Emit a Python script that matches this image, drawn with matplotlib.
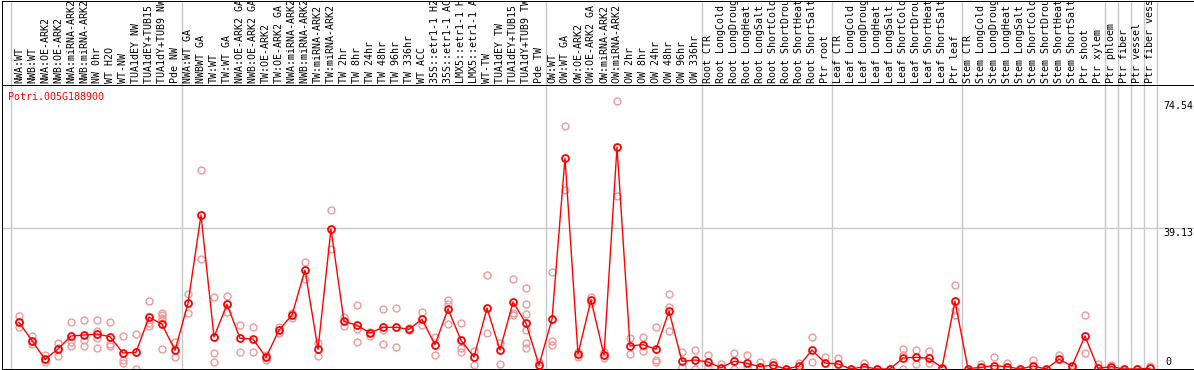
import numpy as np
import matplotlib.pyplot as plt

gene = "Potri.005G188900"

samples = [
    "NWA:WT", "NWB:WT", "NWA:OE-ARK2", "NWB:OE-ARK2", "NWA:miRNA-ARK2", "NWB:miRNA-ARK2",
    "NW 0hr", "WT H2O", "WT-NW", "TUA1dEY NW", "TUA1dEY+TUB15 NW", "TUA1dY+TUB9 NW", "Pde NW",
    "NWA:WT GA", "NWBWT GA", "TW:WT", "TW:WT GA", "NWA:OE-ARK2 GA", "NWB:OE-ARK2 GA",
    "TW:OE-ARK2", "TW:OE-ARK2 GA", "NWA:miRNA-ARK2 GA", "NWB:miRNA-ARK2 GA", "TW:miRNA-ARK2",
    "TW:miRNA-ARK2 GA", "TW 2hr", "TW 8hr", "TW 24hr", "TW 48hr", "TW 96hr", "TW 336hr",
    "WT ACC", "35S::etr1-1 H2O", "35S::etr1-1 ACC", "LMX5::etr1-1 H2O", "LMX5::etr1-1 ACC",
    "WT-TW", "TUA1dEY TW", "TUA1dEY+TUB15 TW", "TUA1dY+TUB9 TW", "Pde TW",
    "OW:WT", "OW:WT GA", "OW:OE-ARK2", "OW:OE-ARK2 GA", "OW:miRNA-ARK2", "OW:miRNA-ARK2 GA",
    "OW 2hr", "OW 8hr", "OW 24hr", "OW 48hr", "OW 96hr", "OW 336hr",
    "Root CTR", "Root LongCold", "Root LongDrought", "Root LongHeat", "Root LongSalt",
    "Root ShortCold", "Root ShortDrought", "Root ShortHeat", "Root ShortSalt", "Ptr root",
    "Leaf CTR", "Leaf LongCold", "Leaf LongDrought", "Leaf LongHeat", "Leaf LongSalt",
    "Leaf ShortCold", "Leaf ShortDrought", "Leaf ShortHeat", "Leaf ShortSalt", "Ptr leaf",
    "Stem CTR", "Stem LongCold", "Stem LongDrought", "Stem LongHeat", "Stem LongSalt",
    "Stem ShortCold", "Stem ShortDrought", "Stem ShortHeat", "Stem ShortSalt", "Ptr shoot",
    "Ptr xylem", "Ptr phloem", "Ptr fiber", "Ptr vessel", "Ptr fiber vessel",
]

group_sizes = [13, 28, 12, 10, 10, 11, 1, 1, 1, 1]

mean_values = [
    12.97, 7.86, 2.69, 5.56, 9.17, 9.44, 9.72, 8.97, 4.44, 4.64, 14.44, 12.42, 5.19,
    18.25, 42.78, 8.89, 17.97, 8.53, 8.33, 3.25, 10.83, 15.0, 27.5, 5.47, 38.89,
    13.25, 12.14, 10.0, 11.58, 11.58, 11.03, 13.81, 6.75, 16.67, 7.97, 3.33,
    16.94, 5.28, 18.61, 12.69, 1.11,
    13.81, 58.6, 4.17, 19.17, 3.89, 61.67, 6.39, 6.75, 5.47, 16.11, 2.14, 2.5,
    1.94, 0.36, 2.14, 1.58, 0.64, 1.11, 0.0, 0.83, 5.28, 1.67,
    1.39, 0.0, 0.64, 0.0, 0.0, 3.06, 3.25, 2.97, 0.36, 18.81,
    0.08, 0.47, 0.92, 0.64, 0.0, 0.83, 0.0, 2.69, 0.83, 9.17,
    0.19, 0.64, 0.0, 0.0, 0.19,
]

rep_values = [
    [14.7, 11.7, 13.1], [9.2, 6.9, 7.8], [4.0, 2.0, 2.8], [7.1, 5.8, 3.7],
    [13.0, 7.6, 6.4], [13.6, 8.1, 6.4], [13.6, 10.6, 8.5, 5.8], [13.0, 6.9, 6.4],
    [9.2, 2.5, 1.75], [9.7, 0.0], [18.9, 12.8, 12.0], [15.6, 14.9, 14.2, 13.6, 5.6],
    [7.6, 3.25],
    [20.75, 15.5], [55.3, 30.5], [19.9, 4.4, 2.0], [20.2, 15.75], [12.1, 4.8],
    [11.7, 4.8], [3.9, 2.5], [11.75, 9.9], [15.6, 14.2], [29.7, 24.9], [7.3, 3.7],
    [44.2, 33.3], [14.5, 11.9], [17.7, 11.2, 7.4], [10.4, 9.2], [16.7, 10.8, 6.9],
    [16.9, 6.0], [11.4, 10.8], [15.8, 12.1], [9.0, 3.9], [19.2, 18.1, 12.5],
    [12.7, 5.75, 4.8], [5.1, 1.0], [26.0, 9.9], [7.1, 1.4], [25.0, 15.5, 15.0],
    [22.5, 18.0, 15.2, 10.8, 7.1, 5.9], [2.0],
    [26.9, 7.9, 6.75], [67.5, 49.7], [4.8, 3.4], [20.0, 18.3], [4.7, 3.1],
    [74.54, 48.1], [8.5, 4.2], [8.9, 5.1], [11.7, 2.5, 2.0], [20.75, 17.3, 10.5],
    [4.6, 0.6], [5.3, 0.0],
    [3.9, 0.6], [1.3], [4.4, 0.0], [3.9, 0.6], [2.0], [1.9], [0.0], [1.75],
    [8.9, 1.9], [3.3],
    [3.1], [0.0], [1.75], [0.0], [0.0], [5.6, 3.9, 0.0], [5.2, 1.4], [5.0, 1.75],
    [0.0], [23.25, 16.4, 15.0],
    [0.0], [1.5], [3.3], [1.75], [0.0], [2.5], [0.0], [3.8], [0.0], [15.0, 4.4],
    [1.4], [1.1], [0.0], [0.0], [0.9],
]

y_ticks = [74.54, 39.13]

W, H = 1194, 370
mono = "DejaVu Sans Mono"
fs = 7.2
red = "#ff0000"
pink = "#ee9a9a"
grid = "#c8c8c8"
px = 0.72

fig = plt.figure(figsize=(W / 100, H / 100), dpi=100)

x_lo = (1.5 - 19) / 13
x_hi = (1193.5 - 19) / 13

ax = fig.add_axes([1.5 / W, 1 / H, 1192 / W, 284 / H])
ax.set_xlim(x_lo, x_hi)
ax.set_ylim(0, 284 / 3.6)

# header strip with the sample names
lab = fig.add_axes([1.5 / W, 285 / H, 1192 / W, 84.5 / H])
lab.set_xlim(x_lo, x_hi)
lab.set_ylim(0, 84.5)

for a in (ax, lab):
    a.set_xticks([])
    a.set_yticks([])
    for s in a.spines.values():
        s.set_linewidth(1 * px)
        s.set_color("black")

bounds = [-0.62] + list(np.cumsum(group_sizes) - 0.5)
for b in bounds:
    ax.axvline(b, color=grid, lw=1.4 * px, zorder=0)
    lab.axvline(b, color=grid, lw=1.4 * px, zorder=0)
ax.axhline(y_ticks[1], color=grid, lw=1.4 * px, zorder=0)

xs = np.arange(len(samples))
for i, name in enumerate(samples):
    lab.text(i, 2, name, rotation=90, ha="center", va="bottom", fontsize=fs,
             family=mono, clip_on=True)

rx = np.concatenate([[i] * len(r) for i, r in enumerate(rep_values)])
ry = np.concatenate([r for r in rep_values])
ax.plot(rx, ry, ls="none", marker="o", ms=5.0, mfc="none", mec=pink, mew=1.0, zorder=2)

ax.plot(xs, mean_values, color=red, lw=1.0, zorder=3)
ax.plot(xs, mean_values, ls="none", marker="o", ms=5.0, mfc="none", mec=red, mew=1.3, zorder=4)

fig.text(8 / W, 1 - 97 / H, gene, color=red, fontsize=fs, family=mono, va="center")

tx = (1163 - 19) / 13
for v in y_ticks:
    ax.text(tx, v, f"{v:.2f}", ha="left", va="top", fontsize=fs, family=mono)
ax.text((1165 - 19) / 13, 0.5, "0", ha="left", va="bottom", fontsize=fs, family=mono)

fig.savefig("out.png", dpi=100)
